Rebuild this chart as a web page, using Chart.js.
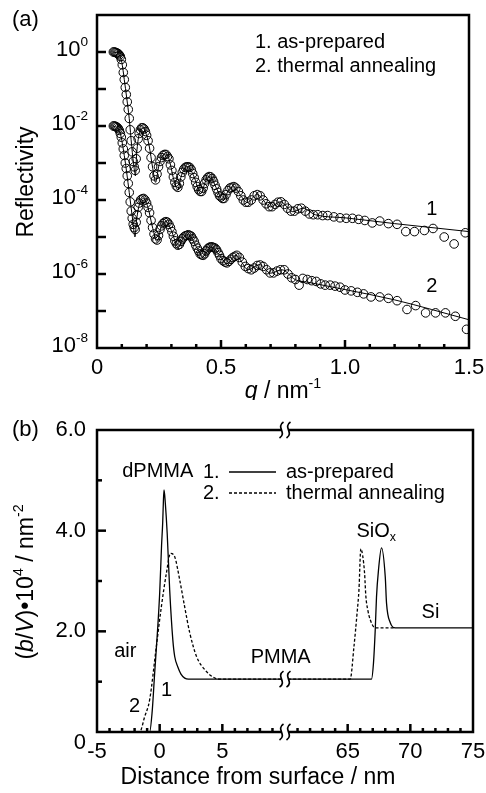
<!DOCTYPE html>
<html>
<head>
<meta charset="utf-8">
<script src="https://cdn.jsdelivr.net/npm/chart.js@4.4.0/dist/chart.umd.min.js"></script>
<style>
    body { margin: 0; background: #fff; }
    #wrap { position: relative; width: 486px; height: 793px; }
    canvas { position: absolute; left: 0; }
</style>
</head>
<body>
<div id="wrap">
    <canvas id="chartA" width="486" height="400" style="top:0"></canvas>
    <canvas id="chartB" width="486" height="393" style="top:400px"></canvas>
</div>
<script>
// ---- panel (a): reflectivity data ----
const q1 = [0.066,0.070,0.074,0.078,0.082,0.086,0.090,0.094,0.098,0.102,
    0.106,0.110,0.114,0.118,0.122,0.126,0.130,0.134,0.138,0.142,
    0.146,0.150,0.154,0.158,0.162,0.166,0.170,0.175,0.180,0.185,
    0.190,0.195,0.200,0.206,0.212,0.218,0.224,0.230,0.236,0.242,
    0.248,0.254,0.260,0.266,0.272,0.278,0.284,0.290,0.296,0.302,
    0.308,0.314,0.320,0.326,0.332,0.338,0.344,0.350,0.356,0.362,
    0.368,0.374,0.380,0.386,0.392,0.398,0.404,0.410,0.416,0.422,
    0.428,0.434,0.440,0.446,0.452,0.458,0.464,0.470,0.476,0.482,
    0.488,0.494,0.500,0.506,0.512,0.520,0.528,0.536,0.544,0.552,
    0.560,0.570,0.580,0.590,0.600,0.610,0.622,0.634,0.646,0.658,
    0.670,0.682,0.694,0.706,0.718,0.730,0.742,0.755,0.768,0.782,
    0.796,0.810,0.824,0.840,0.856,0.872,0.890,0.910,0.930,0.955,
    0.980,1.005,1.030,1.055,1.080,1.110,1.140,1.175,1.210,1.245,
    1.280,1.320,1.355,1.400,1.440,1.485];
const refl1 = [1.0,1.0,0.98,0.95,0.93,0.89,0.83,0.76,0.63,0.45,
    0.28,0.18,0.11,0.071,0.045,0.028,0.016,7.9e-3,4.0e-3,2.0e-3,
    1.1e-3,7.9e-4,6.3e-4,1.3e-3,2.5e-3,4.5e-3,6.3e-3,7.9e-3,8.9e-3,8.9e-3,
    8.3e-3,7.1e-3,5.6e-3,4.0e-3,2.5e-3,1.4e-3,7.9e-4,4.5e-4,3.5e-4,5.0e-4,
    7.9e-4,1.1e-3,1.4e-3,1.6e-3,1.7e-3,1.7e-3,1.5e-3,1.3e-3,8.9e-4,6.3e-4,
    4.2e-4,3.0e-4,2.4e-4,2.2e-4,2.8e-4,4.2e-4,5.6e-4,6.8e-4,7.6e-4,7.9e-4,
    7.9e-4,7.6e-4,6.6e-4,5.2e-4,4.0e-4,3.0e-4,2.3e-4,1.9e-4,1.7e-4,1.7e-4,
    2.1e-4,2.8e-4,3.5e-4,4.0e-4,4.3e-4,4.2e-4,3.8e-4,3.2e-4,2.5e-4,2.0e-4,
    1.6e-4,1.3e-4,1.2e-4,1.1e-4,1.1e-4,1.4e-4,1.8e-4,2.1e-4,2.2e-4,2.3e-4,
    2.1e-4,1.7e-4,1.3e-4,1.0e-4,8.7e-5,8.7e-5,1.0e-4,1.3e-4,1.4e-4,1.3e-4,
    1.0e-4,7.9e-5,6.6e-5,6.6e-5,7.6e-5,8.7e-5,8.9e-5,7.6e-5,6.0e-5,5.0e-5,
    5.0e-5,5.8e-5,6.0e-5,5.0e-5,4.2e-5,4.0e-5,4.0e-5,3.8e-5,3.8e-5,3.5e-5,
    3.3e-5,3.2e-5,3.2e-5,3.0e-5,2.8e-5,2.4e-5,2.7e-5,2.3e-5,2.2e-5,1.4e-5,
    1.4e-5,1.5e-5,1.7e-5,1.0e-5,6.5e-6,1.3e-5];

const q2 = [0.066,0.070,0.074,0.078,0.082,0.086,0.090,0.094,0.098,0.102,
    0.106,0.110,0.114,0.118,0.122,0.126,0.130,0.134,0.138,0.142,
    0.146,0.150,0.154,0.158,0.162,0.166,0.170,0.176,0.182,0.188,
    0.194,0.200,0.206,0.212,0.218,0.224,0.230,0.236,0.242,0.248,
    0.254,0.260,0.266,0.272,0.278,0.284,0.290,0.296,0.302,0.308,
    0.314,0.320,0.326,0.332,0.338,0.344,0.350,0.356,0.362,0.368,
    0.374,0.380,0.386,0.392,0.398,0.404,0.410,0.416,0.422,0.428,
    0.434,0.440,0.446,0.452,0.458,0.464,0.470,0.476,0.482,0.488,
    0.494,0.500,0.508,0.516,0.524,0.532,0.540,0.548,0.556,0.564,
    0.574,0.586,0.598,0.610,0.622,0.634,0.646,0.658,0.670,0.684,
    0.698,0.712,0.726,0.740,0.755,0.770,0.785,0.800,0.815,0.830,
    0.848,0.866,0.884,0.902,0.920,0.940,0.960,0.980,1.000,1.025,
    1.050,1.075,1.105,1.140,1.175,1.210,1.250,1.285,1.325,1.365,
    1.405,1.445,1.490];
const refl2 = [1.0e-2,1.0e-2,9.8e-3,9.5e-3,9.1e-3,8.5e-3,7.6e-3,6.3e-3,5.0e-3,3.5e-3,
    2.4e-3,1.6e-3,1.0e-3,7.1e-4,4.5e-4,2.8e-4,1.6e-4,8.9e-5,5.0e-5,3.2e-5,
    2.2e-5,1.8e-5,1.6e-5,2.5e-5,4.0e-5,6.3e-5,8.3e-5,1.0e-4,1.07e-4,1.1e-4,
    1.0e-4,8.3e-5,6.3e-5,4.5e-5,2.8e-5,1.8e-5,1.2e-5,8.9e-6,8.3e-6,1.1e-5,
    1.6e-5,2.0e-5,2.3e-5,2.5e-5,2.6e-5,2.5e-5,2.2e-5,1.8e-5,1.4e-5,1.05e-5,
    7.9e-6,6.6e-6,6.0e-6,6.3e-6,7.6e-6,8.9e-6,1.0e-5,1.07e-5,1.1e-5,1.15e-5,
    1.1e-5,1.05e-5,8.9e-6,7.6e-6,6.0e-6,5.0e-6,4.2e-6,3.5e-6,3.3e-6,3.2e-6,
    3.5e-6,4.2e-6,4.8e-6,5.2e-6,5.4e-6,5.4e-6,5.2e-6,5.0e-6,4.5e-6,3.8e-6,
    3.2e-6,2.6e-6,2.3e-6,2.1e-6,2.0e-6,2.2e-6,2.5e-6,2.8e-6,3.0e-6,3.2e-6,
    2.8e-6,2.1e-6,1.6e-6,1.4e-6,1.3e-6,1.45e-6,1.7e-6,1.75e-6,1.6e-6,1.3e-6,
    1.07e-6,1.07e-6,1.2e-6,1.3e-6,1.3e-6,1.0e-6,7.9e-7,7.1e-7,5.0e-7,7.6e-7,
    7.1e-7,6.6e-7,6.3e-7,5.4e-7,5.0e-7,5.0e-7,4.7e-7,4.4e-7,3.7e-7,3.5e-7,
    3.2e-7,2.9e-7,2.4e-7,2.4e-7,2.2e-7,1.9e-7,1.1e-7,1.4e-7,8.9e-8,8.9e-8,
    8.9e-8,7.2e-8,3.2e-8];

// fitted curves
const fitQ1 = [0.066,0.09,0.10,0.11,0.12,0.13,0.14,0.15,0.155,0.16,
    0.17,0.183,0.195,0.21,0.225,0.236,0.25,0.265,0.278,0.29,
    0.31,0.326,0.34,0.365,0.39,0.418,0.44,0.455,0.48,0.508,
    0.53,0.55,0.58,0.605,0.645,0.70,0.74,0.79,0.83,0.88,
    1.0,1.2,1.5];
const fitR1 = [1.0,0.85,0.53,0.18,0.056,0.016,2.8e-3,7e-4,4.5e-4,1.8e-3,
    6e-3,9e-3,7e-3,3e-3,7e-4,3e-4,9e-4,1.6e-3,1.75e-3,1.3e-3,
    3.5e-4,1.9e-4,4.5e-4,8e-4,4.5e-4,1.5e-4,3.5e-4,4.3e-4,2.2e-4,1.0e-4,
    1.8e-4,2.3e-4,1.3e-4,8.5e-5,1.4e-4,6.5e-5,9e-5,4.8e-5,6e-5,4e-5,
    3.3e-5,2.3e-5,1.4e-5];
const fitQ2 = [0.066,0.09,0.11,0.13,0.145,0.153,0.16,0.172,0.188,0.205,
    0.225,0.242,0.26,0.278,0.30,0.326,0.35,0.37,0.40,0.428,
    0.46,0.49,0.524,0.56,0.61,0.655,0.70,0.745,0.80,0.85,
    1.0,1.2,1.5];
const fitR2 = [1e-2,7.6e-3,1.6e-3,1.6e-4,2.5e-5,1.0e-5,3e-5,8e-5,1.1e-4,6.5e-5,
    1.7e-5,7.5e-6,2e-5,2.6e-5,1.5e-5,5.5e-6,1e-5,1.15e-5,5.5e-6,3.0e-6,
    5.4e-6,3.5e-6,1.9e-6,3.2e-6,1.3e-6,1.8e-6,1.05e-6,1.3e-6,7e-7,6e-7,
    3.8e-7,2.0e-7,5.8e-8];

const qTicks = [0,0.1,0.2,0.3,0.4,0.5,0.6,0.7,0.8,0.9,1.0,1.1,1.2,1.3,1.4,1.5];
const qMajor = [0,0.5,1.0,1.5];
const qLabels = ["0","0.5","1.0","1.5"];
const reflTicks = [1,1e-1,1e-2,1e-3,1e-4,1e-5,1e-6,1e-7,1e-8];
const reflMajor = [1,1e-2,1e-4,1e-6,1e-8];
const reflExp = ["0","-2","-4","-6","-8"];

// ---- panel (b): scattering length density profiles ----
const dist1 = [-5,-0.8,-0.6,-0.4,-0.2,0,0.15,0.24,0.3,0.35,0.45,0.6,0.8,1.05,1.2,1.45,1.7,2.0,2.3,10,
    60,66.9,67.06,67.2,67.3,67.46,67.7,68.0,68.1,68.4,68.8,75];
const sld1 = [0,0,0.4,1.17,1.9,2.75,3.7,4.15,4.6,4.81,4.55,3.95,2.82,1.83,1.5,1.29,1.15,1.07,1.05,1.05,
    1.05,1.05,1.37,2.03,2.68,3.22,3.66,3.08,2.56,2.17,2.07,2.07];
const dist2 = [-5,-1.6,-1.2,-0.8,-0.27,0.13,0.54,0.86,1.2,1.6,2.0,2.4,2.96,3.63,4.27,4.8,10,
    60,65.2,65.5,65.75,65.9,66.05,66.2,66.35,66.45,66.6,66.8,67.2,68.8];
const sld2 = [0,0,0.3,0.64,1.69,2.48,3.16,3.55,3.48,3.02,2.48,1.97,1.49,1.23,1.09,1.05,1.05,
    1.05,1.05,1.69,2.36,2.82,3.64,3.5,3.15,2.7,2.43,2.23,2.07,2.07];

const distTicks = [-5,-4,-3,-2,-1,0,1,2,3,4,5,6,7,8,9,61,62,63,64,65,66,67,68,69,70,71,72,73,74,75];
const distMajor = [-5,0,5,65,70,75];
const sldTicks = [1,2,3,4,5];
const sldMajor = [0,2,4,6];
const sldLabels = ["0","2.0","4.0","6.0"];
const gapStart = 10, gapEnd = 60;

const FONT = '"Liberation Sans", Arial, Helvetica, sans-serif';

function fontStr(size, italic) {
    return (italic ? "italic " : "") + size + "px " + FONT;
}

// draw text made of parts: [text, ""|"i"|"sup"|"sub"]
function drawRich(ctx, parts, x, y, size, align) {
    const small = p => p[1] === "sup" || p[1] === "sub";
    const widths = parts.map(p => {
        ctx.font = fontStr(small(p) ? size * 0.62 : size, p[1] === "i");
        return ctx.measureText(p[0]).width;
    });
    const total = widths.reduce((s, w) => s + w, 0);
    let cx = align === "center" ? x - total / 2 : (align === "right" ? x - total : x);
    ctx.textAlign = "left";
    ctx.textBaseline = "middle";
    ctx.fillStyle = "#000";
    parts.forEach((p, i) => {
        ctx.font = fontStr(small(p) ? size * 0.62 : size, p[1] === "i");
        const dy = p[1] === "sup" ? -size * 0.36 : (p[1] === "sub" ? size * 0.28 : 0);
        ctx.fillText(p[0], cx, y + dy);
        cx += widths[i];
    });
}

function drawRotated(ctx, parts, x, y, size) {
    ctx.save();
    ctx.translate(x, y);
    ctx.rotate(-Math.PI / 2);
    drawRich(ctx, parts, 0, 0, size, "center");
    ctx.restore();
}

function line(ctx, x1, y1, x2, y2) {
    ctx.beginPath();
    ctx.moveTo(x1, y1);
    ctx.lineTo(x2, y2);
    ctx.stroke();
}

// axis break mark: two wavy strokes with a white gap between
function drawBreak(ctx, px, py, h) {
    ctx.save();
    ctx.fillStyle = "#fff";
    ctx.fillRect(px - 4, py - 2.5, 8, 5);
    ctx.strokeStyle = "#000";
    ctx.lineWidth = 1.7;
    [-3.5, 3.5].forEach(dx => {
        ctx.beginPath();
        ctx.moveTo(px + dx + 2, py - h / 2);
        ctx.bezierCurveTo(px + dx - 6, py - h / 6, px + dx + 6, py + h / 6, px + dx - 2, py + h / 2);
        ctx.stroke();
    });
    ctx.restore();
}

// Broken linear axis: the range gapStart..gapEnd is cut out
class BrokenScale extends Chart.LinearScale {
    getPixelForValue(value) {
        const v = value >= gapEnd ? value - (gapEnd - gapStart) : value;
        const span = (this.max - this.min) - (gapEnd - gapStart);
        return this.getPixelForDecimal((v - this.min) / span);
    }
    getValueForPixel(pixel) {
        const span = (this.max - this.min) - (gapEnd - gapStart);
        const v = this.min + this.getDecimalForPixel(pixel) * span;
        return v > gapStart ? v + (gapEnd - gapStart) : v;
    }
}
BrokenScale.id = "broken";
BrokenScale.defaults = Chart.LinearScale.defaults;
Chart.register(BrokenScale);

function toPoints(xs, ys) {
    return xs.map((x, i) => ({ x: x, y: ys[i] }));
}

// Decorations for panel (a)
const decorA = {
    id: "decorA",
    afterDraw(chart) {
        const { ctx, chartArea: a, scales: { x, y } } = chart;
        ctx.save();
        ctx.strokeStyle = "#000";
        ctx.lineWidth = 2.5;
        ctx.strokeRect(a.left, a.top, a.right - a.left, a.bottom - a.top);

        qTicks.forEach(v => {
            if (v === 0 || v === 1.5) return;
            const px = x.getPixelForValue(v);
            line(ctx, px, a.bottom, px, a.bottom - (qMajor.includes(v) ? 8 : 4));
        });
        reflTicks.forEach(v => {
            if (v === 1e-8) return;
            const py = y.getPixelForValue(v);
            line(ctx, a.left, py, a.left + 9, py);
        });

        qMajor.forEach((v, i) => {
            drawRich(ctx, [[qLabels[i], ""]], x.getPixelForValue(v), 368, 22, "center");
        });
        reflMajor.forEach((v, i) => {
            drawRich(ctx, [["10", ""], [reflExp[i], "sup"]], 88, y.getPixelForValue(v) - 2, 22, "right");
        });

        drawRich(ctx, [["q", "i"], [" / nm", ""], ["-1", "sup"]], 283, 392, 23, "center");
        drawRotated(ctx, [["Reflectivity", ""]], 27, 182, 23);
        drawRich(ctx, [["(a)", ""]], 12, 20, 22, "left");

        drawRich(ctx, [["1. as-prepared", ""]], 255, 42, 20, "left");
        drawRich(ctx, [["2. thermal annealing", ""]], 255, 66, 20, "left");

        drawRich(ctx, [["1", ""]], x.getPixelForValue(1.35), y.getPixelForValue(5.4e-5), 20, "center");
        drawRich(ctx, [["2", ""]], x.getPixelForValue(1.35), y.getPixelForValue(4.5e-7), 20, "center");
        ctx.restore();
    }
};

// Decorations for panel (b)
const decorB = {
    id: "decorB",
    afterDraw(chart) {
        const { ctx, chartArea: a, scales: { x, y } } = chart;
        ctx.save();
        ctx.strokeStyle = "#000";
        ctx.lineWidth = 2.5;
        ctx.strokeRect(a.left, a.top, a.right - a.left, a.bottom - a.top);

        distTicks.forEach(v => {
            if (v === -5 || v === 75) return;
            const px = x.getPixelForValue(v);
            line(ctx, px, a.bottom, px, a.bottom - (distMajor.includes(v) ? 8 : 4));
        });
        sldTicks.forEach(v => {
            const py = y.getPixelForValue(v);
            line(ctx, a.left, py, a.left + (sldMajor.includes(v) ? 9 : 5), py);
        });

        const bx = x.getPixelForValue(gapStart);
        drawBreak(ctx, bx, a.top, 16);
        drawBreak(ctx, bx, a.bottom, 16);
        drawBreak(ctx, bx, y.getPixelForValue(1.05), 16);

        distMajor.forEach(v => {
            drawRich(ctx, [[String(v), ""]], x.getPixelForValue(v), 352, 22, "center");
        });
        sldMajor.forEach((v, i) => {
            const py = y.getPixelForValue(v) + (v === 0 ? 11 : 0);
            drawRich(ctx, [[sldLabels[i], ""]], 86, py, 22, "right");
        });

        drawRich(ctx, [["Distance from surface / nm", ""]], 258, 378, 23, "center");
        drawRotated(ctx, [["(", ""], ["b", "i"], ["/", ""], ["V", "i"], [")\u202210", ""], ["4", "sup"],
            [" / nm", ""], ["-2", "sup"]], 27, 182, 23);
        drawRich(ctx, [["(b)", ""]], 12, 30, 22, "left");

        // legend
        ctx.lineWidth = 1.4;
        drawRich(ctx, [["1.", ""]], 203, 72, 20, "left");
        line(ctx, 229, 72, 276, 72);
        drawRich(ctx, [["as-prepared", ""]], 286, 72, 20, "left");
        drawRich(ctx, [["2.", ""]], 203, 93, 20, "left");
        ctx.setLineDash([3, 2]);
        line(ctx, 229, 93, 276, 93);
        ctx.setLineDash([]);
        drawRich(ctx, [["thermal annealing", ""]], 286, 93, 20, "left");

        // annotations
        drawRich(ctx, [["dPMMA", ""]], x.getPixelForValue(-0.15), y.getPixelForValue(5.17), 20, "center");
        drawRich(ctx, [["air", ""]], x.getPixelForValue(-3.63), y.getPixelForValue(1.59), 20, "left");
        drawRich(ctx, [["PMMA", ""]], x.getPixelForValue(7.26), y.getPixelForValue(1.49), 20, "left");
        drawRich(ctx, [["SiO", ""], ["x", "sub"]], x.getPixelForValue(65.7), y.getPixelForValue(3.98), 20, "left");
        drawRich(ctx, [["Si", ""]], x.getPixelForValue(70.9), y.getPixelForValue(2.37), 20, "left");
        drawRich(ctx, [["1", ""]], x.getPixelForValue(0.56), y.getPixelForValue(0.83), 20, "center");
        drawRich(ctx, [["2", ""]], x.getPixelForValue(-2.0), y.getPixelForValue(0.5), 20, "center");
        ctx.restore();
    }
};

const circleStyle = {
    showLine: false,
    pointRadius: 4.3,
    pointBorderWidth: 1,
    pointBorderColor: "#000",
    pointBackgroundColor: "rgba(0,0,0,0)"
};
const fitStyle = {
    showLine: true,
    borderColor: "#000",
    borderWidth: 1,
    pointRadius: 0,
    cubicInterpolationMode: "monotone"
};

new Chart(document.getElementById("chartA"), {
    type: "scatter",
    data: {
        datasets: [
            Object.assign({ label: "1. as-prepared", data: toPoints(q1, refl1) }, circleStyle),
            Object.assign({ label: "2. thermal annealing", data: toPoints(q2, refl2) }, circleStyle),
            Object.assign({ label: "fit 1", data: toPoints(fitQ1, fitR1) }, fitStyle),
            Object.assign({ label: "fit 2", data: toPoints(fitQ2, fitR2) }, fitStyle)
        ]
    },
    options: {
        responsive: false,
        animation: false,
        events: [],
        layout: { padding: { left: 97, right: 17, top: 15, bottom: 52 } },
        scales: {
            x: { type: "linear", min: 0, max: 1.5, display: false },
            y: { type: "logarithmic", min: 1e-8, max: 10, display: false }
        },
        plugins: { legend: { display: false }, tooltip: { enabled: false } }
    },
    plugins: [decorA]
});

new Chart(document.getElementById("chartB"), {
    type: "scatter",
    data: {
        datasets: [
            { label: "1. as-prepared", data: toPoints(dist1, sld1), showLine: true, borderColor: "#000",
              borderWidth: 1.3, pointRadius: 0, cubicInterpolationMode: "monotone" },
            { label: "2. thermal annealing", data: toPoints(dist2, sld2), showLine: true, borderColor: "#000",
              borderWidth: 1.3, borderDash: [3, 2], pointRadius: 0, cubicInterpolationMode: "monotone" }
        ]
    },
    options: {
        responsive: false,
        animation: false,
        events: [],
        layout: { padding: { left: 97, right: 13, top: 30, bottom: 61 } },
        scales: {
            x: { type: "broken", min: -5, max: 75, display: false },
            y: { type: "linear", min: 0, max: 6, display: false }
        },
        plugins: { legend: { display: false }, tooltip: { enabled: false } }
    },
    plugins: [decorB]
});
</script>
</body>
</html>
